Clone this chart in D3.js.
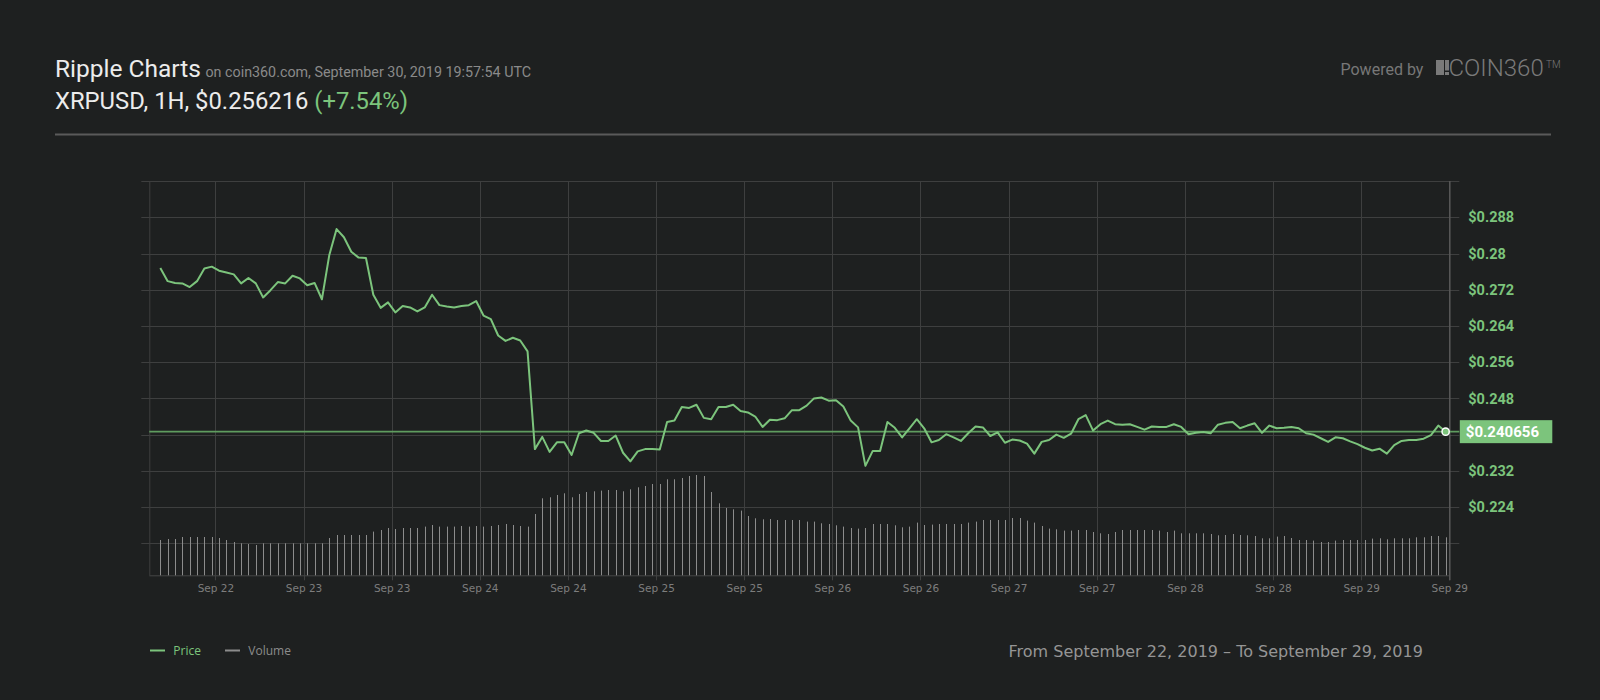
<!DOCTYPE html>
<html>
<head>
<meta charset="utf-8">
<script src="https://cdn.jsdelivr.net/npm/d3@7"></script>
<style>
  html, body { margin: 0; padding: 0; background: #1e2020; }
  svg { display: block; }
</style>
</head>
<body>
<svg id="chart" width="1600" height="700"></svg>
<script>
// ---------- DATA ----------
const startTime = "2019-09-22T04:30:00Z";   // first hourly candle
const priceValues = [
  0.2768,0.2739,0.2735,0.2734,0.2726,0.2739,0.2767,0.2771,0.2762,0.2758,
  0.2754,0.2734,0.2746,0.2734,0.2703,0.2719,0.2737,0.2734,0.2751,0.2745,
  0.2730,0.2735,0.2699,0.2796,0.2854,0.2836,0.2804,0.2791,0.2790,0.2709,
  0.2680,0.2692,0.2670,0.2684,0.2681,0.2672,0.2681,0.2709,0.2686,0.2683,
  0.2681,0.2684,0.2686,0.2695,0.2663,0.2655,0.2619,0.2607,0.2614,0.2608,
  0.2584,0.2368,0.2395,0.2362,0.2383,0.2383,0.2355,0.2403,0.2409,0.2404,
  0.2386,0.2386,0.2398,0.2360,0.2341,0.2363,0.2368,0.2368,0.2367,0.2428,
  0.2431,0.2461,0.2459,0.2466,0.2437,0.2434,0.2461,0.2461,0.2466,0.2452,
  0.2449,0.2440,0.2417,0.2433,0.2432,0.2436,0.2454,0.2454,0.2464,0.2480,
  0.2482,0.2475,0.2476,0.2462,0.2431,0.2416,0.2331,0.2364,0.2364,0.2428,
  0.2415,0.2394,0.2414,0.2434,0.2414,0.2383,0.2388,0.2401,0.2394,0.2386,
  0.2403,0.2418,0.2416,0.2397,0.2405,0.2382,0.2389,0.2387,0.2380,0.2358,
  0.2384,0.2388,0.2400,0.2393,0.2402,0.2434,0.2443,0.2409,0.2423,0.2431,
  0.2423,0.2422,0.2423,0.2417,0.2411,0.2418,0.2417,0.2417,0.2423,0.2417,
  0.2401,0.2404,0.2406,0.2403,0.2422,0.2426,0.2428,0.2414,0.2420,0.2425,
  0.2404,0.2420,0.2414,0.2415,0.2417,0.2414,0.2403,0.2400,0.2392,0.2384,
  0.2394,0.2392,0.2385,0.2379,0.2371,0.2365,0.2369,0.2358,0.2377,0.2386,
  0.2388,0.2388,0.2391,0.2399,0.2420,0.240656
];
const volumeValues = [
  35.3,36.3,36.3,38.3,38.3,38.3,38.3,38.3,37.3,35.3,
  33.3,32.0,31.3,30.3,32.0,32.0,32.0,32.0,32.0,32.0,
  32.0,32.0,32.0,37.3,40.3,40.3,40.3,40.3,40.3,43.7,
  45.3,47.3,46.3,47.3,47.3,47.3,48.7,50.3,48.7,48.7,
  48.7,49.3,48.7,49.3,48.7,49.3,50.3,51.3,50.3,49.3,
  48.7,61.3,77.0,78.0,80.3,82.0,78.0,81.3,83.3,84.0,
  84.7,85.3,85.3,84.0,86.0,88.0,89.3,91.3,91.3,96.0,
  96.0,97.3,99.3,100.3,99.3,83.3,72.0,67.3,66.0,64.7,
  59.3,57.0,56.0,56.3,55.3,55.3,55.3,55.3,53.7,53.7,
  52.0,51.3,50.0,48.7,47.3,46.7,47.3,51.3,51.3,51.3,
  50.0,48.0,48.7,52.7,50.3,50.7,51.3,51.3,51.3,51.3,
  52.7,53.7,55.3,55.3,55.3,55.3,57.3,57.3,54.7,52.7,
  49.3,46.7,46.0,44.7,44.7,45.3,45.3,43.3,42.0,41.3,
  43.3,45.3,45.3,45.3,45.3,45.3,44.7,43.3,44.7,42.0,
  42.0,42.0,42.0,41.3,40.0,40.3,41.3,40.3,40.0,39.3,
  37.0,37.0,38.7,39.3,37.3,35.3,35.3,34.7,33.3,33.3,
  34.7,35.3,35.3,35.3,35.3,36.7,37.0,36.0,37.0,37.0,
  37.0,38.0,38.0,39.3,39.3,38.0
];
const xTickLabels = ["Sep 22","Sep 23","Sep 23","Sep 24","Sep 24","Sep 25","Sep 25",
  "Sep 26","Sep 26","Sep 27","Sep 27","Sep 28","Sep 28","Sep 29","Sep 29"];
const yTickValues = [0.288,0.28,0.272,0.264,0.256,0.248,0.232,0.224];
const yTickLabels = ["$0.288","$0.28","$0.272","$0.264","$0.256","$0.248","$0.232","$0.224"];
const gridValues = [0.216,0.224,0.232,0.240,0.248,0.256,0.264,0.272,0.280,0.288,0.296];
const lastPrice = 0.240656;
const lastPriceLabel = "$0.240656";
const titleMain = "Ripple Charts";
const titleSub = "on coin360.com, September 30, 2019 19:57:54 UTC";
const pairLine = "XRPUSD, 1H, $0.256216 ";
const changeText = "(+7.54%)";
const rangeText = "From September 22, 2019 \u2013 To September 29, 2019";

// ---------- LAYOUT ----------
const GREEN = "#7cc47c";
const svg = d3.select("#chart");
svg.append("rect").attr("width",1600).attr("height",700).attr("fill","#1e2020");

const t0 = new Date(startTime);
const times = priceValues.map((_, i) => d3.utcHour.offset(t0, i));
const data = priceValues.map((p, i) => ({ t: times[i], p, v: volumeValues[i] }));

const left = 149.3, right = 1449.3, bottom = 575.3;
const x = d3.scaleUtc()
  .domain([new Date("2019-09-22T03:00:00Z"), new Date("2019-09-29T12:00:00Z")])
  .range([left, right]);
const y = d3.scaleLinear().domain([0.216, 0.288]).range([543.3, 217.3]);
const plotTop = y(0.296);
const vy = d3.scaleLinear().domain([0, 100]).range([bottom, bottom - 100]);

const xTicks = d3.utcHour.every(12).range(new Date("2019-09-22T12:00:00Z"), new Date("2019-09-29T12:00:01Z"));

// ---------- HEADER ----------
const t1 = svg.append("text").attr("x", 55).attr("y", 76.5)
  .style("font-family","Roboto").style("font-size","24.5px").attr("fill","#ececec").text(titleMain);
const tw = t1.node().getComputedTextLength();
svg.append("text").attr("x", 55 + tw + 4.5).attr("y", 76.5)
  .style("font-family","Roboto").style("font-size","14.3px").attr("fill","#8a8a8a").text(titleSub);
const l2 = svg.append("text").attr("x", 55).attr("y", 109)
  .style("font-family","Roboto").style("font-size","23.8px").attr("fill","#ececec");
l2.append("tspan").text(pairLine);
l2.append("tspan").attr("fill", GREEN).text(changeText);

svg.append("line").attr("x1",55).attr("x2",1551).attr("y1",134.5).attr("y2",134.5)
  .attr("stroke","#5a5a5a").attr("stroke-width",2);

// Powered by
svg.append("text").attr("x",1340.5).attr("y",75).style("font-family","Roboto")
  .style("font-size","16px").attr("fill","#777").text("Powered by");
svg.append("rect").attr("x",1436).attr("y",60).attr("width",8).attr("height",15).attr("fill","#7a7a7a");
svg.append("rect").attr("x",1445).attr("y",60).attr("width",4).attr("height",10.5).attr("fill","#7a7a7a");
svg.append("rect").attr("x",1445).attr("y",72).attr("width",4).attr("height",3).attr("fill","#7a7a7a");
svg.append("text").attr("x",1448.5).attr("y",76).style("font-family","Roboto").style("font-weight",300)
  .style("font-size","24px").attr("fill","#7a7a7a").text("COIN360");
svg.append("text").attr("x",1546).attr("y",68).style("font-family","Roboto").style("font-weight",300)
  .style("font-size","10px").attr("fill","#7a7a7a").text("TM");

// ---------- GRID ----------
const grid = svg.append("g");
grid.selectAll("line.h").data(gridValues).join("line")
  .attr("x1", left - 8).attr("x2", right + 10)
  .attr("y1", d => Math.round(y(d)) + 0.5).attr("y2", d => Math.round(y(d)) + 0.5)
  .attr("stroke", "#3e3f3f").attr("stroke-width", 1);
grid.selectAll("line.v").data(xTicks).join("line")
  .attr("x1", d => Math.round(x(d)) + 0.5).attr("x2", d => Math.round(x(d)) + 0.5)
  .attr("y1", plotTop).attr("y2", bottom + 5)
  .attr("stroke", "#3e3f3f").attr("stroke-width", 1);
grid.append("line").attr("x1", left + 0.5).attr("x2", left + 0.5).attr("y1", plotTop).attr("y2", bottom)
  .attr("stroke", "#3e3f3f");
grid.append("line").attr("x1", left).attr("x2", right).attr("y1", bottom + 0.5).attr("y2", bottom + 0.5)
  .attr("stroke", "#454646");

// ---------- VOLUME ----------
svg.append("g").selectAll("line").data(data).join("line")
  .attr("x1", d => Math.round(x(d.t)) + 0.5).attr("x2", d => Math.round(x(d.t)) + 0.5)
  .attr("y1", bottom).attr("y2", d => vy(d.v))
  .attr("stroke", "#8c8c8c").attr("stroke-width", 1);

// right axis line
svg.append("line").attr("x1", right + 0.5).attr("x2", right + 0.5).attr("y1", plotTop).attr("y2", bottom + 5)
  .attr("stroke", "#585858").attr("stroke-width", 1.5);

// ---------- CURRENT PRICE LINE ----------
svg.append("line").attr("x1", left).attr("x2", right + 10)
  .attr("y1", y(lastPrice)).attr("y2", y(lastPrice))
  .attr("stroke", "#5f9c5f").attr("stroke-width", 1.6);

// ---------- PRICE LINE ----------
const line = d3.line().x(d => x(d.t)).y(d => y(d.p));
svg.append("path").datum(data).attr("d", line)
  .attr("fill", "none").attr("stroke", GREEN).attr("stroke-width", 2)
  .attr("stroke-linejoin", "round");

const last = data[data.length - 1];
svg.append("circle").attr("cx", x(last.t)).attr("cy", y(last.p)).attr("r", 3.6)
  .attr("fill", GREEN).attr("stroke", "#ffffff").attr("stroke-width", 1.5);

// ---------- AXES ----------
const xAxis = d3.axisBottom(x).tickValues(xTicks).tickFormat((d, i) => xTickLabels[i]).tickSize(0).tickPadding(9);
const gx = svg.append("g").attr("transform", `translate(0,${bottom})`).call(xAxis);
gx.select(".domain").remove();
gx.selectAll("text").style("font-family", "DejaVu Sans").style("font-size", "10.5px").attr("fill", "#7d7d7d");

const yAxis = d3.axisRight(y).tickValues(yTickValues).tickFormat((d, i) => yTickLabels[i]).tickSize(0).tickPadding(19);
const gy = svg.append("g").attr("transform", `translate(${right},0)`).call(yAxis);
gy.select(".domain").remove();
gy.selectAll("text").style("font-family", "Roboto").style("font-weight", "bold")
  .style("font-size", "14.5px").attr("fill", GREEN);

// last price label box
const by = y(lastPrice);
svg.append("rect").attr("x", right + 10.5).attr("y", by - 11.5).attr("width", 92.5).attr("height", 23)
  .attr("fill", GREEN);
svg.append("text").attr("x", right + 16.5).attr("y", by + 5.5)
  .style("font-family", "Roboto").style("font-weight", "bold").style("font-size", "15px")
  .attr("fill", "#ffffff").text(lastPriceLabel);

// ---------- LEGEND ----------
const lg = svg.append("g");
lg.append("line").attr("x1", 150).attr("x2", 165).attr("y1", 650.5).attr("y2", 650.5).attr("stroke", GREEN).attr("stroke-width", 2);
lg.append("text").attr("x", 173.3).attr("y", 654.8).style("font-family", "Open Sans").style("font-size", "12px")
  .attr("fill", GREEN).text("Price");
lg.append("line").attr("x1", 225).attr("x2", 240).attr("y1", 650.5).attr("y2", 650.5).attr("stroke", "#8c8c8c").attr("stroke-width", 2);
lg.append("text").attr("x", 248.3).attr("y", 654.8).style("font-family", "Open Sans").style("font-size", "12px")
  .attr("fill", "#8c8c8c").text("Volume");

svg.append("text").attr("x", 1008.5).attr("y", 657.3).style("font-family", "DejaVu Sans").style("font-size", "16px")
  .attr("fill", "#959595").text(rangeText);
</script>
</body>
</html>
